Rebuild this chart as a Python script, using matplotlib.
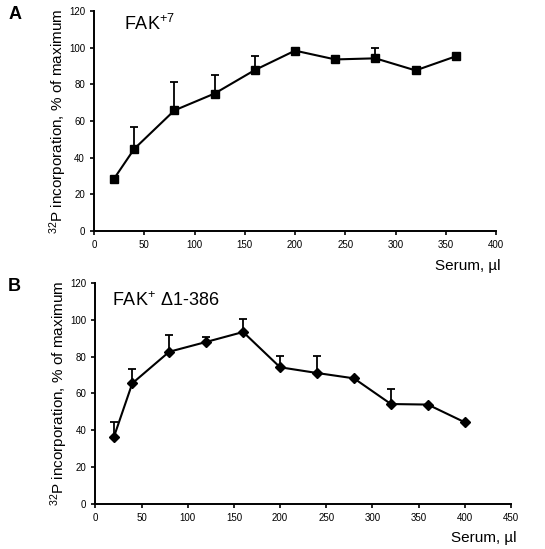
import matplotlib
matplotlib.use("Agg")
import matplotlib.pyplot as plt

plt.rcParams["font.family"] = ["Liberation Sans", "DejaVu Sans"]
plt.rcParams["mathtext.fontset"] = "custom"
plt.rcParams["mathtext.rm"] = "Liberation Sans"
plt.rcParams["mathtext.it"] = "Liberation Sans"

# panel A: FAK+7
serum_a = [20, 40, 80, 120, 160, 200, 240, 280, 320, 360]
incorp_a = [28.6, 44.8, 65.8, 75.0, 87.8, 98.4, 93.6, 94.2, 87.6, 95.3]
err_a = [0, 12.0, 15.4, 9.9, 7.6, 0, 0, 5.8, 0, 0]

# panel B: FAK+ delta1-386
serum_b = [20, 40, 80, 120, 160, 200, 240, 280, 320, 360, 400]
incorp_b = [36.3, 65.5, 82.6, 87.9, 93.3, 74.2, 71.1, 68.2, 54.3, 54.0, 44.4]
err_b = [8.3, 7.9, 9.1, 2.7, 6.8, 6.1, 9.4, 0, 8.2, 0, 0]

YLABEL = r"$^{32}$P incorporation, % of maximum"

fig = plt.figure(figsize=(5.45, 5.49), dpi=100)
ax_a = fig.add_axes([0.1725, 0.5792, 0.7376, 0.4007])
ax_b = fig.add_axes([0.1749, 0.0814, 0.7627, 0.4037])


def style(ax, xmax, xstep):
    ax.set_ylim(0, 120)
    ax.set_xlim(0, xmax)
    ax.set_yticks(range(0, 121, 20))
    ax.set_xticks(range(0, xmax + 1, xstep))
    ax.tick_params(labelsize=7, length=3, width=1.2, direction="out")
    for s in ["top", "right"]:
        ax.spines[s].set_visible(False)
    for s in ["left", "bottom"]:
        ax.spines[s].set_linewidth(1.4)
    ax.set_ylabel(YLABEL, fontsize=11, labelpad=0)


ax_a.errorbar(serum_a, incorp_a, yerr=[[0] * len(err_a), err_a], color="black",
              marker="s", markersize=6, linewidth=1.5, elinewidth=1.3,
              capsize=3, capthick=1.3)
style(ax_a, 400, 50)
ax_a.text(0.075, 0.915, "FAK$^{+7}$", transform=ax_a.transAxes, fontsize=13)
fig.text(0.918, 0.508, "Serum, µl", fontsize=11, ha="right")
fig.text(0.015, 0.965, "A", fontsize=13, fontweight="bold")

ax_b.errorbar(serum_b, incorp_b, yerr=[[0] * len(err_b), err_b], color="black",
              marker="D", markersize=5, linewidth=1.5, elinewidth=1.3,
              capsize=3, capthick=1.3)
style(ax_b, 450, 50)
ax_b.text(0.04, 0.895, "FAK$^{+}$ Δ1-386", transform=ax_b.transAxes, fontsize=13)
fig.text(0.947, 0.013, "Serum, µl", fontsize=11, ha="right")
fig.text(0.015, 0.47, "B", fontsize=13, fontweight="bold")

fig.savefig("out.png", dpi=100)
